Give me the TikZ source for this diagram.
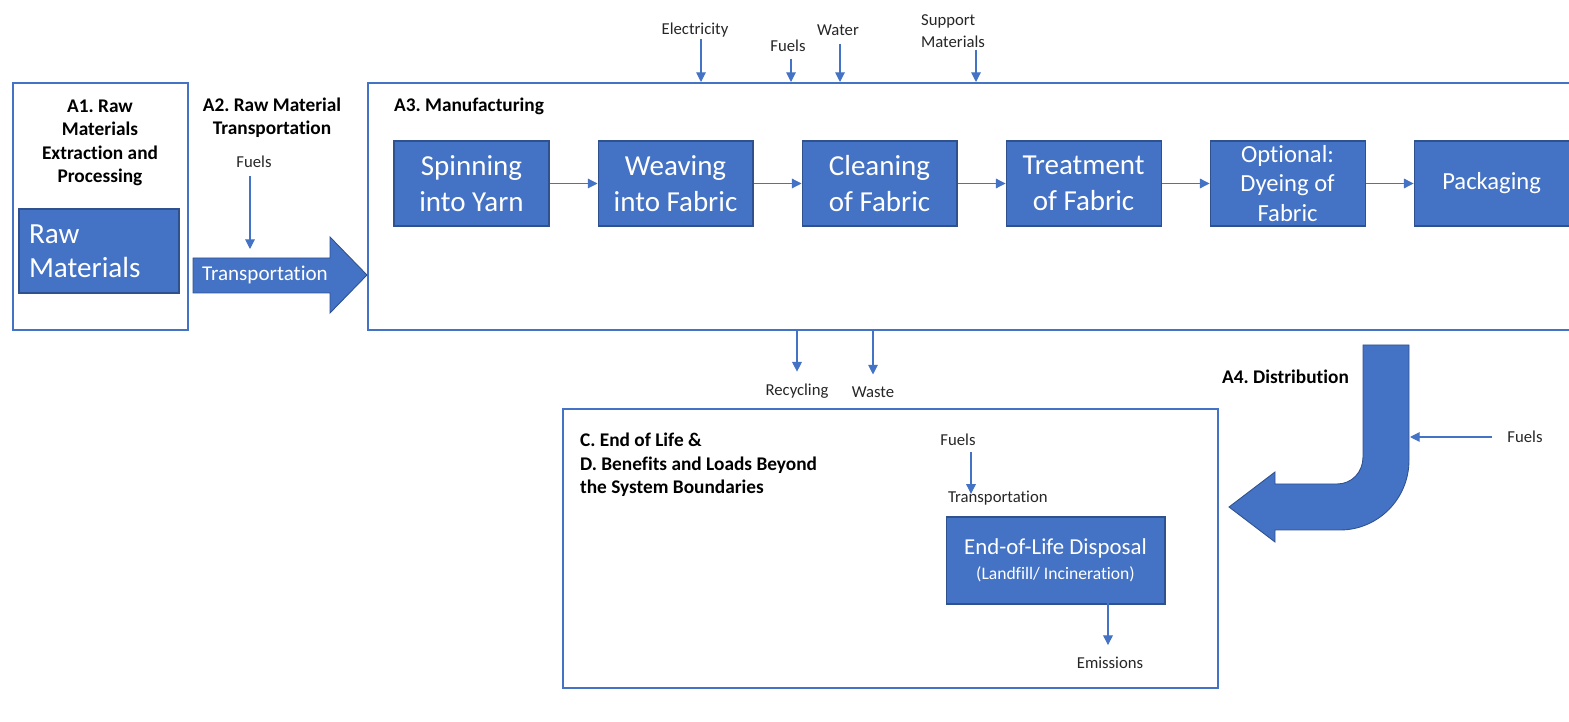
\documentclass[tikz,border=0pt]{standalone}
\usepackage{fontspec}
\setmainfont[Ligatures=NoCommon]{Carlito}
\frenchspacing
\usetikzlibrary{positioning, arrows.meta}

\definecolor{boxblue}{HTML}{4472C4}
\definecolor{edgeblue}{HTML}{2F528F}

\tikzset{
  stage/.style={draw=boxblue, line width=1pt, inner sep=0pt, anchor=north west},
  heading/.style={font=\fontsize{11}{13.3}\selectfont\bfseries, align=center, inner sep=1pt},
  procbox/.style={draw=edgeblue, fill=boxblue, line width=0.6pt, text=white, minimum width=3.1cm,
    minimum height=1.7cm, align=center, inner sep=1pt, font=\fontsize{16.5}{20.5}\selectfont},
  flow/.style={draw=boxblue, line width=0.6pt, -{Triangle[width=5.5pt,length=5.5pt]}},
  small/.style={font=\fontsize{9.5}{12.5}\selectfont, text=black!85, inner sep=1pt},
}

\begin{document}
\begin{tikzpicture}[x=0.02cm, y=-0.02cm]
\useasboundingbox (0,0) rectangle (1569,722);

% Stage frames
\node[stage, minimum width=3.5cm, minimum height=4.94cm] (a1) at (12,82) {};
\node[stage, minimum width=24.3cm, minimum height=4.94cm] (a3) at (367,82) {};
\node[stage, minimum width=13.1cm, minimum height=5.58cm] (eol) at (562,408) {};

% Headings
\node[heading] (a1title) at (100,143) {A1. Raw\\Materials\\Extraction and\\Processing};
\node[heading] (a2title) at (272,118) {A2. Raw Material\\Transportation};
\node[heading, anchor=west] (a3title) at (392,106) {A3. Manufacturing};
\node[heading, anchor=west, align=left] (eoltitle) at (578,465)
  {C. End of Life \&\\D. Benefits and Loads Beyond\\the System Boundaries};
\node[heading, anchor=east] (a4title) at (1351,377) {A4. Distribution};

% A1 and A2
\node[procbox, align=left, text width=2.8cm, inner xsep=0.2cm, minimum height=1.68cm,
  font=\fontsize{16.6}{19.3}\selectfont] (raw) at (99,251) {Raw\\Materials};
\draw[draw=edgeblue, line width=0.5pt, fill=boxblue]
  (193,258) -- (330,258) -- (330,237) -- (367,275) -- (330,313) -- (330,293) -- (193,293) -- cycle;
\node[text=white, font=\fontsize{12}{14}\selectfont] (transp) at (265,275) {Transportation};
\node[small] (fuelsA2) at (254,162) {Fuels};
\coordinate (transpIn) at (250,249);
\draw[flow] (fuelsA2.south -| transpIn) ++(0,6) -- (transpIn);

% A3 process chain
\node[procbox] (spin) at (471.5,183.5) {Spinning\\into Yarn};
\node[procbox, right=0.96cm of spin] (weave) {Weaving\\into Fabric};
\node[procbox, right=0.96cm of weave] (clean) {Cleaning\\of Fabric};
\node[procbox, right=0.96cm of clean] (treat) {Treatment\\of Fabric};
\node[procbox, right=0.96cm of treat, font=\fontsize{14}{16.8}\selectfont] (dye) {Optional:\\Dyeing of\\Fabric};
\node[procbox, right=0.96cm of dye, font=\fontsize{14}{16.8}\selectfont] (pack) {Packaging};
\foreach \a/\b in {spin/weave, weave/clean, clean/treat, treat/dye, dye/pack}
  \draw[flow] (\a) -- (\b);

% A3 inputs
\node[small] (elec) at (695,30) {Electricity};
\node[small] (fuelsA3) at (788,46) {Fuels};
\node[small] (water) at (838,30) {Water};
\node[small, align=left] (support) at (953,31) {Support\\Materials};
\draw[flow] ([xshift=0.12cm]elec.south) -- ([xshift=0.12cm]elec.south |- a3.north);
\draw[flow] ([xshift=0.06cm, yshift=-0.1cm]fuelsA3.south) -- ([xshift=0.06cm]fuelsA3.south |- a3.north);
\draw[flow] ([xshift=0.04cm, yshift=-0.12cm]water.south) -- ([xshift=0.04cm]water.south |- a3.north);
\draw[flow] ([xshift=0.46cm]support.south) -- ([xshift=0.46cm]support.south |- a3.north);

% A3 outputs
\node[small] (recyc) at (797,391) {Recycling};
\node[small] (waste) at (873,392) {Waste};
\draw[flow, shorten >=0.2cm] (recyc.north |- a3.south) -- (recyc.north);
\draw[flow, shorten >=0.2cm] (waste.north |- a3.south) -- (waste.north);

% A4 distribution
\draw[draw=edgeblue, line width=0.5pt, fill=boxblue]
  (1363,345) -- (1409,345) -- (1409,460)
  .. controls (1409,499) and (1378,530) .. (1340,530)
  -- (1275,530) -- (1275,542) -- (1229,507) -- (1275,472) -- (1275,484) -- (1337,484)
  .. controls (1352,484) and (1363,472) .. (1363,457) -- cycle;
\node[small] (fuelsA4) at (1525,437) {Fuels};
\coordinate (distIn) at (1410,437);
\draw[flow, shorten <=0.26cm] (fuelsA4.west) -- (distIn);

% C/D end of life
\node[small] (fuelsC) at (958,440) {Fuels};
\node[small, anchor=west] (transC) at (946,498) {Transportation};
\draw[flow] ([xshift=0.26cm, yshift=-0.08cm]fuelsC.south) -- ([xshift=0.26cm, yshift=-0.1cm]fuelsC.south |- transC.north);
\node[procbox, minimum width=4.38cm, minimum height=1.74cm, font=\fontsize{13}{14.2}\selectfont] (disposal) at (1055.5,560.5)
  {End-of-Life Disposal\\{\fontsize{10}{14.2}\selectfont (Landfill/ Incineration)}};
\node[small] (emis) at (1110,663) {Emissions};
\draw[flow, shorten >=0.2cm] ([xshift=-0.04cm, yshift=0.08cm]disposal.south -| emis.north) -- ([xshift=-0.04cm]emis.north);

\end{tikzpicture}
\end{document}
